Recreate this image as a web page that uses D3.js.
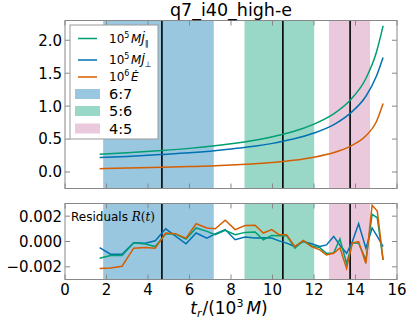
<!DOCTYPE html>
<html>
<head>
<meta charset="utf-8">
<script src="https://cdn.jsdelivr.net/npm/d3@7"></script>
<style>
  body { margin: 0; background: #fff; }
  svg { display: block; }
  text { font-family: "DejaVu Sans", sans-serif; }
  .math { font-family: "DejaVu Serif", "Liberation Serif", serif; font-style: italic; }
</style>
</head>
<body>
<svg id="chart" width="411" height="323"></svg>
<script>
// flux curves (top panel)
var tFlux = [1.67, 3, 4.67, 6, 7, 8, 9, 10, 10.5, 11, 12, 13, 13.74, 14.5, 15, 15.33];
var jPar  = [0.27, 0.292, 0.326, 0.359, 0.39, 0.428, 0.475, 0.535, 0.572, 0.614, 0.727, 0.894, 1.09, 1.42, 1.81, 2.22];
var jPerp = [0.22, 0.237, 0.266, 0.292, 0.317, 0.348, 0.386, 0.435, 0.466, 0.50, 0.592, 0.728, 0.89, 1.15, 1.45, 1.74];
var eDot  = [0.05, 0.06, 0.072, 0.083, 0.093, 0.105, 0.122, 0.145, 0.16, 0.177, 0.225, 0.30, 0.39, 0.55, 0.76, 1.04];

// residuals (bottom panel), units of 1e-3
var tRes = [1.67, 2.19, 2.75, 3.31, 3.87, 4.35, 4.85, 5.31, 5.83, 6.32, 6.84, 7.24, 7.72, 8.2, 8.68, 9.16, 9.56, 9.96, 10.32, 10.68, 11.08, 11.48, 11.88, 12.28, 12.6, 12.95, 13.25, 13.57, 13.85, 14.15, 14.5, 14.8, 15.05, 15.33];
var resPerp = [-0.48, -1.0, -1.0, -0.1, -0.13, 0.06, 1.0, 0.45, -0.18, 0.67, 0.27, 0.6, 0.94, 0.14, 0.35, 0.27, 0.3, 0.27, 0.05, -0.13, -0.4, 0.0, -0.18, -0.4, -0.27, 0.4, -0.3, -0.93, 0.0, 1.4, -0.53, 1.07, 0.4, -0.4];
var resPar  = [-1.33, -1.1, -1.1, -0.1, -0.2, -0.4, 0.6, 0.6, 0.2, 1.07, 0.8, 0.54, 0.88, 0.54, 0.72, 0.75, 0.14, 0.48, 0.45, 0.48, -0.53, 0.06, -0.35, -0.48, -0.93, -0.9, 0.2, -1.73, -0.1, -0.13, -1.46, 2.14, 1.87, -1.46];
var resE    = [-2.13, -2.1, -1.95, -0.53, -0.48, -0.53, 0.67, 0.62, 0.27, 1.4, 1.07, 1.0, 1.68, 0.94, 1.26, 1.29, 0.67, 0.94, 0.54, 0.54, -0.4, 0.08, -0.4, -0.66, -1.06, -0.93, -0.5, -2.13, -0.1, 0.0, -1.73, 2.86, 2.4, -1.46];

// resonance bands and crossing times
var bandNames = ["6:7", "5:6", "4:5"];
var bandStart = [1.84, 8.65, 12.72];
var bandEnd   = [7.17, 12.01, 14.70];
var bandColor = ["#0072B2", "#009E73", "#CC79A7"];
var crossTimes = [4.67, 10.5, 13.74];

var xTicks = [0, 2, 4, 6, 8, 10, 12, 14, 16];
var yTicksTop = [0.0, 0.5, 1.0, 1.5, 2.0];
var yTicksBot = [-0.002, 0.0, 0.002];

var colPar = "#009E73", colPerp = "#0072B2", colE = "#D55E00";

var svg = d3.select("#chart");

var x = d3.scaleLinear().domain([0, 16]).range([65, 397]);
var yTop = d3.scaleLinear().domain([-0.25, 2.3]).range([188.5, 20.5]);
var yBot = d3.scaleLinear().domain([-0.003, 0.003]).range([279.5, 203.5]);

function panel(y, yTicks, fmt, showXLabels){
    var g = svg.append("g");
    var y0 = y.range()[1], y1 = y.range()[0];
    // bands
    bandStart.forEach(function(s, i){
        g.append("rect")
            .attr("x", x(s)).attr("y", y0)
            .attr("width", x(bandEnd[i]) - x(s)).attr("height", y1 - y0)
            .attr("fill", bandColor[i]).attr("fill-opacity", 0.4);
    });
    crossTimes.forEach(function(t){
        g.append("line")
            .attr("x1", x(t)).attr("x2", x(t)).attr("y1", y0).attr("y2", y1)
            .attr("stroke", "#000").attr("stroke-width", 1.6);
    });
    // inward ticks
    var tickCol = "#888";
    xTicks.forEach(function(t){
        g.append("line").attr("x1", x(t)).attr("x2", x(t)).attr("y1", y1).attr("y2", y1 - 5).attr("stroke", tickCol);
        g.append("line").attr("x1", x(t)).attr("x2", x(t)).attr("y1", y0).attr("y2", y0 + 5).attr("stroke", tickCol);
        if (showXLabels)
            g.append("text").attr("x", x(t)).attr("y", y1 + 15).attr("text-anchor", "middle")
                .attr("font-size", "15px").text(t);
    });
    yTicks.forEach(function(v){
        g.append("line").attr("x1", 65).attr("x2", 70).attr("y1", y(v)).attr("y2", y(v)).attr("stroke", tickCol);
        g.append("line").attr("x1", 397).attr("x2", 392).attr("y1", y(v)).attr("y2", y(v)).attr("stroke", tickCol);
        g.append("text").attr("x", 62).attr("y", y(v)).attr("dy", "0.36em").attr("text-anchor", "end")
            .attr("font-size", "15px").text(fmt(v));
    });
    return g;
}

var topPanel = panel(yTop, yTicksTop, d3.format(".1f"), false);
var botPanel = panel(yBot, yTicksBot, function(v){ return d3.format(".3f")(v).replace("-", "\u2212"); }, true);

var lineTop = d3.line().x(function(d){ return x(d[0]); }).y(function(d){ return yTop(d[1]); }).curve(d3.curveMonotoneX);
[[jPar, colPar], [jPerp, colPerp], [eDot, colE]].forEach(function(s){
    topPanel.append("path").datum(d3.zip(tFlux, s[0])).attr("d", lineTop)
        .attr("fill", "none").attr("stroke", s[1]).attr("stroke-width", 1.5);
});

var lineBot = d3.line().x(function(d){ return x(d[0]); }).y(function(d){ return yBot(d[1] / 1000); });
[[resPerp, colPerp], [resPar, colPar], [resE, colE]].forEach(function(s){
    botPanel.append("path").datum(d3.zip(tRes, s[0])).attr("d", lineBot)
        .attr("fill", "none").attr("stroke", s[1]).attr("stroke-width", 1.5);
});

// frames
[[20.5, 188.5], [203.5, 279.5]].forEach(function(r){
    svg.append("rect").attr("x", 65).attr("y", r[0]).attr("width", 332).attr("height", r[1] - r[0])
        .attr("fill", "none").attr("stroke", "#888").attr("stroke-width", 1);
});

// title
svg.append("text").attr("x", 231).attr("y", 15.5).attr("text-anchor", "middle")
    .attr("font-size", "17.5px").text("q7_i40_high-e");

// legend
var leg = svg.append("g");
leg.append("rect").attr("x", 70).attr("y", 25).attr("width", 88).attr("height", 114)
    .attr("fill", "#fff").attr("stroke", "#999").attr("stroke-width", 1);
var lineRows = [38.5, 60, 77];
var lineCols = [colPar, colPerp, colE];
lineRows.forEach(function(yy, i){
    leg.append("line").attr("x1", 78).attr("x2", 97).attr("y1", yy).attr("y2", yy)
        .attr("stroke", lineCols[i]).attr("stroke-width", 1.5);
});
function mathLabel(yy, pow, sym, sub){
    var t = leg.append("text").attr("x", 109).attr("y", yy + 4).attr("font-size", "12px")
        .attr("font-family", "DejaVu Serif, serif");
    t.append("tspan").text("10");
    t.append("tspan").attr("font-size", "8px").attr("dy", -5).text(pow);
    t.append("tspan").attr("dy", 5).attr("dx", 1.5).attr("font-style", "italic").text(sym);
    if (sub) t.append("tspan").attr("font-size", "8px").attr("dy", 3).text(sub);
}
mathLabel(38.5, "5", "MJ\u0307", "\u2225");
mathLabel(60, "5", "MJ\u0307", "\u22A5");
mathLabel(77, "6", "E\u0307", null);
var patchRows = [94, 111, 128.5];
bandNames.forEach(function(n, i){
    leg.append("rect").attr("x", 75).attr("y", patchRows[i] - 5).attr("width", 25).attr("height", 10)
        .attr("fill", bandColor[i]).attr("fill-opacity", 0.4);
    leg.append("text").attr("x", 109).attr("y", patchRows[i] + 5).attr("font-size", "14.5px").text(n);
});

// residual label
var rl = svg.append("text").attr("x", 71).attr("y", 220.5).attr("font-size", "12px");
rl.append("tspan").text("Residuals ");
rl.append("tspan").attr("class", "math").text("R");
rl.append("tspan").attr("font-family", "DejaVu Serif, serif").text("(");
rl.append("tspan").attr("class", "math").text("t");
rl.append("tspan").attr("font-family", "DejaVu Serif, serif").text(")");

// x label
var xl = svg.append("text").attr("x", 229).attr("y", 314).attr("text-anchor", "middle")
    .attr("font-size", "17px").attr("font-family", "DejaVu Serif, serif");
xl.append("tspan").attr("font-style", "italic").text("t");
xl.append("tspan").attr("font-style", "italic").attr("font-size", "11px").attr("dy", 3).text("r");
xl.append("tspan").attr("dy", -3).attr("dx", 1).text("/(10");
xl.append("tspan").attr("font-size", "11px").attr("dy", -7).text("3");
xl.append("tspan").attr("dy", 7).attr("dx", 3).attr("font-style", "italic").text("M");
xl.append("tspan").text(")");
</script>
</body>
</html>
